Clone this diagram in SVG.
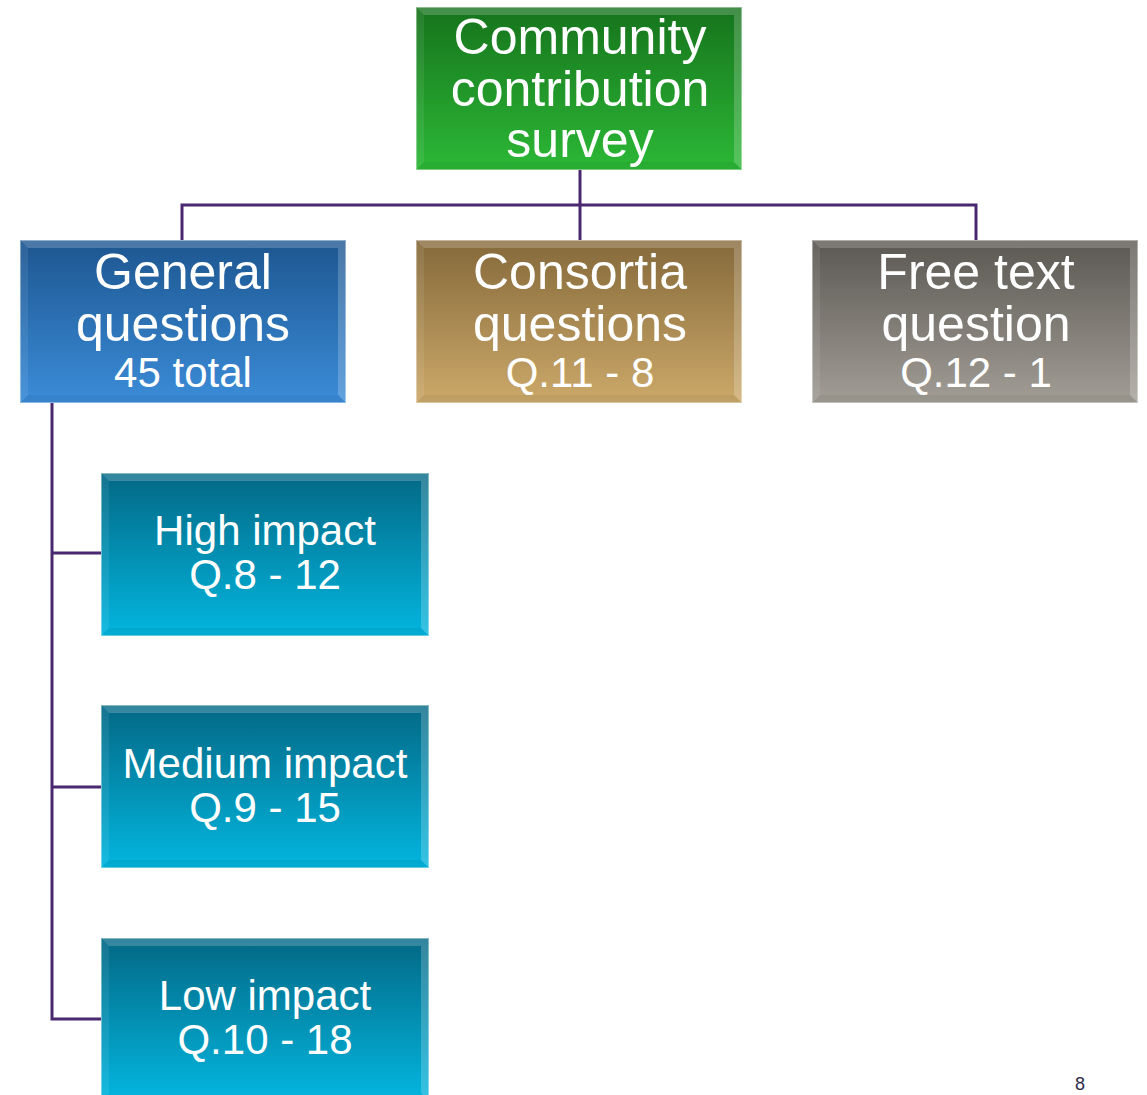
<svg xmlns="http://www.w3.org/2000/svg" width="1147" height="1095" viewBox="0 0 1147 1095">
<defs>
<linearGradient id="gGreen" x1="0" y1="0" x2="0" y2="1"><stop offset="0" stop-color="#16731c"/><stop offset="1" stop-color="#2cb836"/></linearGradient>
<linearGradient id="gBlue" x1="0" y1="0" x2="0" y2="1"><stop offset="0" stop-color="#1d5690"/><stop offset="1" stop-color="#3b8cd8"/></linearGradient>
<linearGradient id="gGold" x1="0" y1="0" x2="0" y2="1"><stop offset="0" stop-color="#85693a"/><stop offset="1" stop-color="#cca96a"/></linearGradient>
<linearGradient id="gGray" x1="0" y1="0" x2="0" y2="1"><stop offset="0" stop-color="#5b5752"/><stop offset="1" stop-color="#a29e96"/></linearGradient>
<linearGradient id="gTeal" x1="0" y1="0" x2="0" y2="1"><stop offset="0" stop-color="#036885"/><stop offset="1" stop-color="#03b6df"/></linearGradient>
</defs>
<style>
.t{font-family:"Liberation Sans",Arial,sans-serif;fill:#fff;text-anchor:middle}
.big{font-size:50px}
.sm{font-size:42px}
.con{stroke:#4a2870;stroke-width:3;fill:none}
.hi{fill:#fff;opacity:.2}
.lt{fill:#fff;opacity:.08}
.dk{fill:#000;opacity:.05}
.edge{fill:none;stroke:#fff;stroke-opacity:.4;stroke-width:1}
</style>
<g id="connectors">
<path class="con" d="M580 170V240M182 240V205H976V240"/>
<path class="con" d="M52 403V1019H101M52 553H101M52 787H101"/>
</g>
<g id="n-top">
<rect x="416" y="7" width="326" height="163" fill="url(#gGreen)"/>
<polygon class="hi" points="416,7 742,7 734,15 424,15"/>
<polygon class="lt" points="416,7 424,15 424,162 416,170"/>
<polygon class="hi" points="742,7 742,170 734,162 734,15"/>
<polygon class="dk" points="416,170 742,170 734,162 424,162"/>
<rect class="edge" x="416.5" y="7.5" width="325" height="162"/>
<text class="t big" x="580" y="54">Community</text>
<text class="t big" x="580" y="106">contribution</text>
<text class="t big" x="580" y="157">survey</text>
</g>
<g id="n-general">
<rect x="20" y="240" width="326" height="163" fill="url(#gBlue)"/>
<polygon class="hi" points="20,240 346,240 338,248 28,248"/>
<polygon class="lt" points="20,240 28,248 28,395 20,403"/>
<polygon class="hi" points="346,240 346,403 338,395 338,248"/>
<polygon class="dk" points="20,403 346,403 338,395 28,395"/>
<rect class="edge" x="20.5" y="240.5" width="325" height="162"/>
<text class="t big" x="183" y="289">General</text>
<text class="t big" x="183" y="341">questions</text>
<text class="t sm" x="183" y="387">45 total</text>
</g>
<g id="n-consortia">
<rect x="416" y="240" width="326" height="163" fill="url(#gGold)"/>
<polygon class="hi" points="416,240 742,240 734,248 424,248"/>
<polygon class="lt" points="416,240 424,248 424,395 416,403"/>
<polygon class="hi" points="742,240 742,403 734,395 734,248"/>
<polygon class="dk" points="416,403 742,403 734,395 424,395"/>
<rect class="edge" x="416.5" y="240.5" width="325" height="162"/>
<text class="t big" x="580" y="289">Consortia</text>
<text class="t big" x="580" y="341">questions</text>
<text class="t sm" x="580" y="387">Q.11 - 8</text>
</g>
<g id="n-free">
<rect x="812" y="240" width="326" height="163" fill="url(#gGray)"/>
<polygon class="hi" points="812,240 1138,240 1130,248 820,248"/>
<polygon class="lt" points="812,240 820,248 820,395 812,403"/>
<polygon class="hi" points="1138,240 1138,403 1130,395 1130,248"/>
<polygon class="dk" points="812,403 1138,403 1130,395 820,395"/>
<rect class="edge" x="812.5" y="240.5" width="325" height="162"/>
<text class="t big" x="976" y="289">Free text</text>
<text class="t big" x="976" y="341">question</text>
<text class="t sm" x="976" y="387">Q.12 - 1</text>
</g>
<g id="n-high">
<rect x="101" y="473" width="328" height="163" fill="url(#gTeal)"/>
<polygon class="hi" points="101,473 429,473 421,481 109,481"/>
<polygon class="lt" points="101,473 109,481 109,628 101,636"/>
<polygon class="hi" points="429,473 429,636 421,628 421,481"/>
<polygon class="dk" points="101,636 429,636 421,628 109,628"/>
<rect class="edge" x="101.5" y="473.5" width="327" height="162"/>
<text class="t sm" x="265" y="545">High impact</text>
<text class="t sm" x="265" y="589">Q.8 - 12</text>
</g>
<g id="n-medium">
<rect x="101" y="705" width="328" height="163" fill="url(#gTeal)"/>
<polygon class="hi" points="101,705 429,705 421,713 109,713"/>
<polygon class="lt" points="101,705 109,713 109,860 101,868"/>
<polygon class="hi" points="429,705 429,868 421,860 421,713"/>
<polygon class="dk" points="101,868 429,868 421,860 109,860"/>
<rect class="edge" x="101.5" y="705.5" width="327" height="162"/>
<text class="t sm" x="265" y="778">Medium impact</text>
<text class="t sm" x="265" y="822">Q.9 - 15</text>
</g>
<g id="n-low">
<rect x="101" y="938" width="328" height="163" fill="url(#gTeal)"/>
<polygon class="hi" points="101,938 429,938 421,946 109,946"/>
<polygon class="lt" points="101,938 109,946 109,1093 101,1101"/>
<polygon class="hi" points="429,938 429,1101 421,1093 421,946"/>
<rect class="edge" x="101.5" y="938.5" width="327" height="162"/>
<text class="t sm" x="265" y="1010">Low impact</text>
<text class="t sm" x="265" y="1054">Q.10 - 18</text>
</g>
<text x="1080" y="1090" style="font-family:'Liberation Sans',Arial,sans-serif;font-size:18px;fill:#2e2a4a;text-anchor:middle">8</text>
</svg>
